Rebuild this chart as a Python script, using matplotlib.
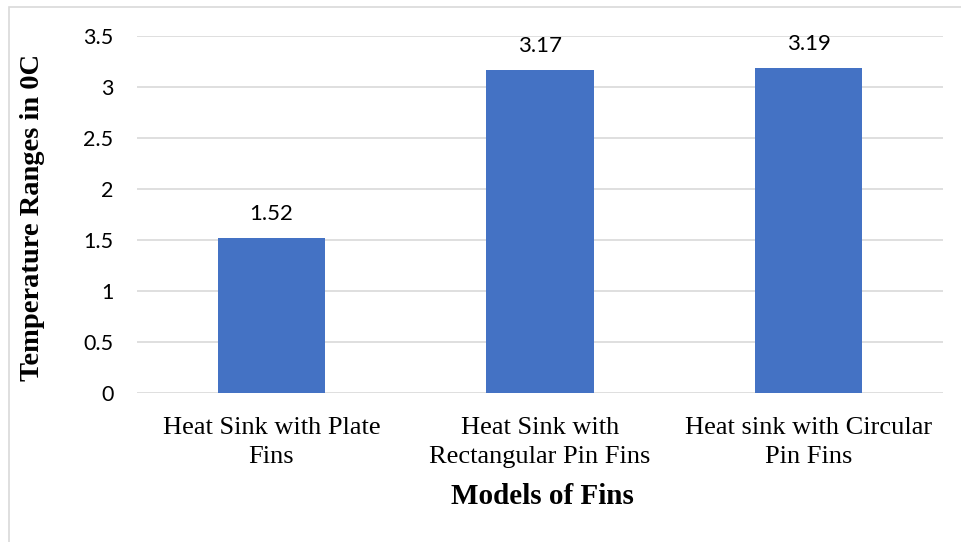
import numpy as np
import matplotlib
matplotlib.use("Agg")
import matplotlib.pyplot as plt
from matplotlib.patches import Rectangle

categories = ["Heat Sink with Plate\nFins", "Heat Sink with\nRectangular Pin Fins", "Heat sink with Circular\nPin Fins"]
values = [1.52, 3.17, 3.19]
yticks = [0, 0.5, 1, 1.5, 2, 2.5, 3, 3.5]
ytick_labels = ["0", "0.5", "1", "1.5", "2", "2.5", "3", "3.5"]

W, H = 961, 542
fig = plt.figure(figsize=(W / 100, H / 100), dpi=100)
# light outer chart border like excel
fig.patches.append(Rectangle((9 / W, -0.1), 1.2, 1.1 - 7 / H, transform=fig.transFigure,
                             fill=False, edgecolor="#d9d9d9", linewidth=1.2))

ax = fig.add_axes([137 / W, 1 - 393 / H, (943 - 137) / W, (393 - 36) / H])
x = np.arange(len(categories))
bars = ax.bar(x, values, width=0.4, color="#4472C4", zorder=3)
ax.set_xlim(-0.5, len(categories) - 0.5)
ax.set_ylim(0, 3.5)
ax.set_yticks(yticks)
ax.set_yticklabels(ytick_labels, family="Lato", fontsize=15.5)
ax.set_xticks(x)
ax.set_xticklabels(categories, family="Liberation Serif", fontsize=19, linespacing=1.45)
ax.tick_params(axis="x", length=0, pad=17)
ax.tick_params(axis="y", length=0, pad=17)
ax.grid(axis="y", color="#d9d9d9", linewidth=1.2, zorder=0)
for s in ax.spines.values():
    s.set_visible(False)

for b, v in zip(bars, values):
    ax.annotate(f"{v:.2f}", (b.get_x() + b.get_width() / 2, v), xytext=(0, 10),
                textcoords="offset points", ha="center", va="bottom",
                family="Lato", fontsize=16)

fig.text(542 / W, 1 - 497 / H, "Models of Fins", ha="center", va="center",
         family="Liberation Serif", fontweight="bold", fontsize=21)
fig.text(33 / W, 1 - 217 / H, "Temperature Ranges in 0C", rotation=90, ha="center", va="center",
         family="Liberation Serif", fontweight="bold", fontsize=20.5)

fig.savefig("out.png", dpi=100)
